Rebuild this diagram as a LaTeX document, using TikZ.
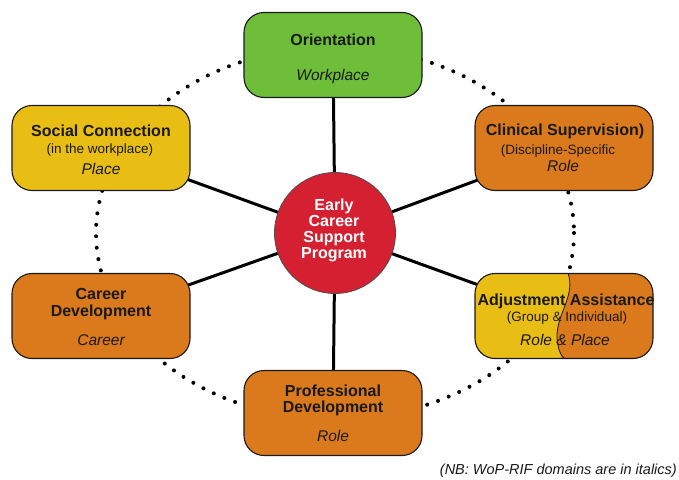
\documentclass[tikz,border=0pt]{standalone}
\usepackage{fontspec}
\setmainfont{Liberation Sans}
\usetikzlibrary{backgrounds}
\definecolor{orientgreen}{RGB}{110,190,58}
\definecolor{boxorange}{RGB}{218,122,28}
\definecolor{boxyellow}{RGB}{232,190,20}
\definecolor{hubred}{RGB}{212,32,48}
\definecolor{inkdark}{RGB}{25,25,25}
\begin{document}
\begin{tikzpicture}[x=1pt,y=-1pt,
  box/.style={draw=inkdark, line width=1.1pt, rounded corners=20pt,
    minimum width=178pt, minimum height=85pt, inner sep=0pt},
  hub/.style={circle, draw=black!70, line width=0.8pt, fill=hubred,
    minimum size=121pt, inner sep=0pt},
  spoke/.style={line width=3pt, black},
  ring/.style={line width=4pt, dash pattern=on 0pt off 11.5pt, line cap=round},
  boxtitle/.style={anchor=base, text=inkdark, font=\fontsize{16}{18}\selectfont\bfseries, inner sep=0pt},
  smallnote/.style={anchor=base, text=inkdark, font=\fontsize{13.5}{15}\selectfont, inner sep=0pt},
  domaintext/.style={anchor=base, text=inkdark, font=\fontsize{15.5}{17}\selectfont\itshape, inner sep=0pt},
  hubtext/.style={anchor=base, text=white, font=\fontsize{16}{18}\selectfont\bfseries, inner sep=0pt}]
\useasboundingbox (0,0) rectangle (679,479);

% two-coloured fill of the Adjustment Assistance box
\begin{scope}
  \clip[rounded corners=20pt] (475,273.5) rectangle (653,358.5);
  \fill[boxyellow] (470,268) rectangle (660,365);
  \fill[boxorange] (568,268) -- (568,273)
    .. controls (576,296) and (556,314) .. (557,338)
    .. controls (558,350) and (561,356) .. (565,365) -- (660,365) -- (660,268) -- cycle;
  \draw[inkdark, line width=0.8pt] (568,273)
    .. controls (576,296) and (556,314) .. (557,338)
    .. controls (558,350) and (561,356) .. (565,359);
\end{scope}

% outer boxes and the central hub
\node[box, fill=orientgreen] (orient) at (333,55) {};
\node[box, fill=boxorange] (clin) at (564,148) {};
\node[box] (adjust) at (564,316) {};
\node[box, fill=boxyellow] (social) at (101,148) {};
\node[box, fill=boxorange] (career) at (101,316) {};
\node[box, fill=boxorange] (prof) at (333,413) {};
\node[hub] (ecsp) at (335,233) {};

% dotted ring and spokes, kept underneath the boxes
\begin{scope}[on background layer]
  \draw[ring] (ecsp.center) ellipse [x radius=239, y radius=186];
  \draw[spoke] (ecsp.center) -- (orient.center);
  \draw[spoke] (ecsp.center) -- (prof.center);
  \draw[spoke] (ecsp.center) -- (clin.center);
  \draw[spoke] (ecsp.center) -- (adjust.center);
  \draw[spoke] (ecsp.center) -- (social.center);
  \draw[spoke] (ecsp.center) -- (career.center);
\end{scope}

% hub label
\node[hubtext] (hubA) at (334,210) {Early};
\node[hubtext] (hubB) at (334,226) {Career};
\node[hubtext] (hubC) at (334,242) {Support};
\node[hubtext] (hubD) at (334,258) {Program};

% Orientation
\node[boxtitle] (orientT) at (333,45.5) {Orientation};
\node[domaintext] (orientD) at (333,80) {Workplace};

% Clinical Supervision
\node[boxtitle] (clinT) at (565,135) {Clinical Supervision)};
\node[smallnote] (clinN) at (558,154) {(Discipline-Specific};
\node[domaintext] (clinD) at (563,171.5) {Role};

% Adjustment Assistance
\node[boxtitle] (adjustT) at (566,305) {Adjustment Assistance};
\node[smallnote] (adjustN) at (567,321) {(Group \& Individual)};
\node[domaintext] (adjustD) at (565,345) {Role \& Place};

% Social Connection
\node[boxtitle] (socialT) at (101,136.5) {Social Connection};
\node[smallnote] (socialN) at (100,153) {(in the workplace)};
\node[domaintext] (socialD) at (101,174) {Place};

% Career Development
\node[boxtitle] (careerT) at (101,299) {Career};
\node[boxtitle] (careerT2) at (101,316.5) {Development};
\node[domaintext] (careerD) at (101,345) {Career};

% Professional Development
\node[boxtitle] (profT) at (333,396.5) {Professional};
\node[boxtitle] (profT2) at (333,412.5) {Development};
\node[domaintext] (profD) at (333,441.5) {Role};

% footnote
\node[anchor=base east, text=inkdark, inner sep=0pt,
  font=\fontsize{14.5}{16}\selectfont\itshape] (nb) at (677,474)
  {(NB: WoP-RIF domains are in italics)};
\end{tikzpicture}
\end{document}
